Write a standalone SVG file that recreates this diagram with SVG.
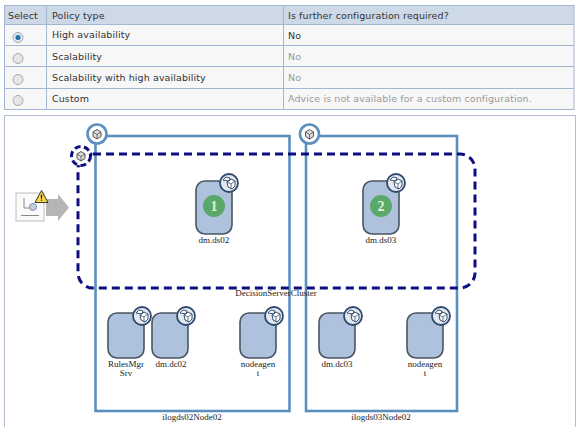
<svg xmlns="http://www.w3.org/2000/svg" width="580" height="427" viewBox="0 0 580 427">
<style>
.t{font-family:"DejaVu Sans",Verdana,sans-serif;font-size:9.5px;fill:#333;letter-spacing:.1px}
.g{fill:#9a9a9a}
.l{font-family:"Liberation Serif",serif;font-size:9px;fill:#222;text-anchor:middle}
.ln{stroke:#a3b6d4;stroke-width:1;fill:none}
.srv{fill:#aec2dd;stroke:#4a5560;stroke-width:1.6}
.bad{fill:#e4e9f0;stroke:#2f4a6e;stroke-width:1.8}
.cube{fill:#fff;stroke:#36506f;stroke-width:1}
.nd{fill:none;stroke:#5b8fbd;stroke-width:2.6}
.dash{fill:none;stroke:#0e0e80;stroke-width:3;stroke-dasharray:8 5}
.radio{fill:#e6e6e6;stroke:#a8a8a8;stroke-width:1}
</style>
<defs>
<g id="badge">
<circle class="bad" r="9"/>
<path class="cube" d="M-6-3l3-3 4 1-1 3zM-2-1l4-3 4 2v5l-3 3-4-2z"/>
<path d="M-2-1l4 2 4-3M2 1v5" fill="none" stroke="#36506f" stroke-width=".8"/>
</g>
<g id="server">
<rect class="srv" x="0" y="0" width="36" height="45" rx="9"/>
<use href="#badge" x="34" y="3"/>
</g>
<g id="tallServer">
<rect class="srv" x="0" y="0" width="36" height="53" rx="9"/>
<use href="#badge" x="33" y="2"/>
</g>
<g id="miniCube">
<path d="M-4-2l4-2.500 4 2.500v4.500l-4 2.500-4-2.500z" fill="#dcdcdc" stroke="#555" stroke-width="1"/>
<path d="M-4-2l4 2.500 4-2.500M0 .5v4.500" fill="none" stroke="#555" stroke-width=".8"/>
</g>
</defs>
<rect width="580" height="427" fill="#fff"/>
<g id="policy-table">
<rect x="4.500" y="5.500" width="569.500" height="19" fill="#cdd9e6"/>
<rect x="4.500" y="24.500" width="569.500" height="85" fill="#f7f7f7"/>
<rect class="ln" x="4.500" y="5.500" width="569.500" height="104"/>
<path class="ln" d="M4.500 24.500H574M4.500 45.500H574M4.500 66.500H574M4.500 88.500H574M46.500 5.500V109.500M283.500 5.500V109.500"/>
<text class="t" x="8" y="19">Select</text>
<text class="t" x="52" y="19">Policy type</text>
<text class="t" x="288" y="19">Is further configuration required?</text>
<text class="t" x="52" y="38">High availability</text>
<text class="t" x="288" y="39">No</text>
<text class="t" x="52" y="60">Scalability</text>
<text class="t g" x="288" y="60">No</text>
<text class="t" x="52" y="81">Scalability with high availability</text>
<text class="t g" x="288" y="81">No</text>
<text class="t" x="52" y="102">Custom</text>
<text class="t g" x="288" y="102">Advice is not available for a custom configuration.</text>
<circle cx="18" cy="37.500" r="5" fill="#dfe6ee" stroke="#9aa7b5"/>
<circle cx="18" cy="37.500" r="2.500" fill="#1f6f9f"/>
<circle class="radio" cx="18" cy="58.500" r="5"/>
<circle class="radio" cx="18" cy="79.500" r="5"/>
<circle class="radio" cx="18" cy="100.500" r="5"/>
</g>
<rect id="panel" x="4.500" y="115.500" width="571" height="312" fill="#fff" stroke="#b4bfd0"/>
<g id="warning-icon">
<rect x="16" y="193" width="28" height="28" fill="#fafafa" stroke="#bdbdbd"/>
<path d="M24 198v10h6M21 215.500h18" fill="none" stroke="#8a8a8a"/>
<circle cx="33" cy="207" r="3.500" fill="#c3cce0" stroke="#8090b8"/>
<path d="M46 199h12v-5l11 13.500-11 13.500v-5h-12z" fill="#b5b5b5"/>
<path d="M41.500 190.500l6.500 12h-13z" fill="#f5d94a" stroke="#3b3b2a"/>
<path d="M41.500 194.500v4M41.500 199.500v1.300" stroke="#222" stroke-width="1.300"/>
</g>
<g id="connectors">
<rect class="nd" x="95.500" y="136" width="194" height="275"/>
<rect class="nd" x="306" y="136" width="151" height="275"/>
<rect class="dash" x="78" y="154" width="397" height="134" rx="15"/>
</g>
<g id="node-ilogds02Node02">
<circle cx="97" cy="134" r="9.500" fill="#fff" stroke="#5b8fbd" stroke-width="2.600"/>
<use href="#miniCube" x="97" y="134"/>
<text class="l" x="192" y="420">ilogds02Node02</text>
</g>
<g id="node-ilogds03Node02">
<circle cx="309.500" cy="134" r="9.500" fill="#fff" stroke="#5b8fbd" stroke-width="2.600"/>
<use href="#miniCube" x="309.500" y="134"/>
<text class="l" x="381" y="420">ilogds03Node02</text>
</g>
<g id="node-DecisionServerCluster">
<circle cx="81" cy="156" r="9.500" fill="#fff" stroke="#0e0e80" stroke-width="3" stroke-dasharray="6 3.500"/>
<use href="#miniCube" x="81" y="156"/>
<text class="l" x="276" y="296">DecisionServerCluster</text>
</g>
<g id="node-dm-ds02">
<use href="#tallServer" x="196" y="181"/>
<circle cx="214" cy="206" r="11" fill="#5aa96b"/>
<text x="214" y="211" font-family="Liberation Serif,serif" font-size="14" font-weight="bold" fill="#dff0df" text-anchor="middle">1</text>
<text class="l" x="214" y="243">dm.ds02</text>
</g>
<g id="node-dm-ds03">
<use href="#tallServer" x="363" y="181"/>
<circle cx="381" cy="206" r="11" fill="#5aa96b"/>
<text x="381" y="211" font-family="Liberation Serif,serif" font-size="14" font-weight="bold" fill="#dff0df" text-anchor="middle">2</text>
<text class="l" x="381" y="243">dm.ds03</text>
</g>
<g id="node-RulesMgrSrv">
<use href="#server" x="108" y="313"/>
<text class="l" x="126" y="367">RulesMgr</text>
<text class="l" x="126" y="376">Srv</text>
</g>
<g id="node-dm-dc02">
<use href="#server" x="152" y="313"/>
<text class="l" x="171" y="367">dm.dc02</text>
</g>
<g id="node-nodeagent-1">
<use href="#server" x="240" y="313"/>
<text class="l" x="258" y="367">nodeagen</text>
<text class="l" x="258" y="376">t</text>
</g>
<g id="node-dm-dc03">
<use href="#server" x="319" y="313"/>
<text class="l" x="337" y="367">dm.dc03</text>
</g>
<g id="node-nodeagent-2">
<use href="#server" x="407" y="313"/>
<text class="l" x="425" y="367">nodeagen</text>
<text class="l" x="425" y="376">t</text>
</g>
</svg>
